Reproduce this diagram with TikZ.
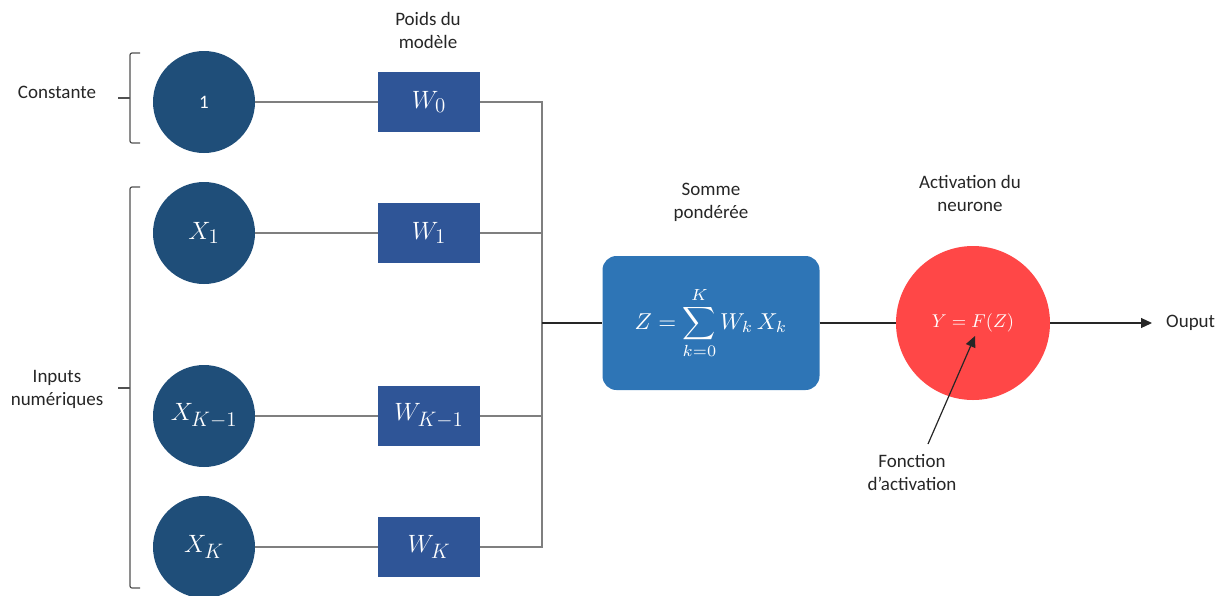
\documentclass[tikz,border=0pt]{standalone}
\usepackage{graphicx}
\usepackage{fontspec}
\setmainfont{Carlito}
\usetikzlibrary{arrows.meta}

\definecolor{neuronblue}{HTML}{1F4E79}
\definecolor{weightblue}{HTML}{2F5597}
\definecolor{sumblue}{HTML}{2E75B6}
\definecolor{actred}{HTML}{FF4747}
\definecolor{wiregray}{HTML}{7F7F7F}
\definecolor{darkwire}{HTML}{262626}
\definecolor{labeltext}{HTML}{262626}

\newcommand\lblfont{\fontsize{19}{23}\selectfont}
\newcommand\varfont{\fontsize{19}{23}\selectfont}
% math enlarged after typesetting
\newcommand\mathat[2]{\scalebox{#1}{$#2$}}
\newcommand\varsize{1.45}

\tikzset{
  inp/.style={circle, fill=neuronblue, minimum size=102pt, inner sep=0pt,
              text=white},
  wbox/.style={rectangle, fill=weightblue, minimum width=102pt,
               minimum height=60pt, inner sep=0pt, text=white},
  var/.style={font=\varfont},
  lbl/.style={align=center, text=labeltext, font=\lblfont, inner sep=0pt},
  wire/.style={draw=wiregray, line width=1.2pt},
  darkline/.style={draw=darkwire, line width=1.2pt},
  bracket/.style={draw=darkwire!80, line width=1.2pt, rounded corners=2pt}
}

\begin{document}
\begin{tikzpicture}[x=1pt, y=-1pt]
\useasboundingbox (0,0) rectangle (1226,595);

% input neurons
\node[inp] (c0) at (204,102) {\scalebox{1.9}{1}};
\node[inp, var] (x1) at (204,233) {\mathat{\varsize}{X_1}};
\node[inp, var] (xk1) at (204,416) {\mathat{\varsize}{X_{K-1}}};
\node[inp, var] (xk) at (204,547) {\mathat{\varsize}{X_K}};

% model weights
\node[wbox, var] (w0) at (429,102) {\mathat{\varsize}{W_0}};
\node[wbox, var] (w1) at (429,233) {\mathat{\varsize}{W_1}};
\node[wbox, var] (wk1) at (429,416) {\mathat{\varsize}{W_{K-1}}};
\node[wbox, var] (wk) at (429,547) {\mathat{\varsize}{W_K}};

% weighted sum
\node[rectangle, rounded corners=14pt, fill=sumblue, minimum width=217pt,
      minimum height=134pt, inner sep=0pt, text=white] (sum) at (711,323)
  {\mathat{2.3}{\displaystyle Z = \sum_{k=0}^{K} W_k\, X_k}};

% activation neuron
\node[circle, fill=actred, minimum size=154pt, inner sep=0pt, text=white]
  (act) at (973,323) {\mathat{1.85}{Y = F(Z)}};

% labels
\node[lbl] (lconst) at (57,92) {Constante};
\node[lbl] (linp) at (57,389) {Inputs\\numériques};
\node[lbl] (lpoids) at (428,30) {Poids du\\modèle};
\node[lbl] (lsomme) at (711,202) {Somme\\pondérée};
\node[lbl] (lactiv) at (970,193) {Activation du\\neurone};
\node[lbl, anchor=north] (lfonc) at (912,454) {Fonction\\d'activation};
\node[lbl, anchor=west] (lout) at (1166,323) {Ouput};

% group brackets
\draw[bracket] (140,53) -- (130,53) -- (130,143) -- (140,143);
\draw[bracket] (130,98) -- (118,98);
\draw[bracket] (140,187) -- (130,187) -- (130,588) -- (140,588);
\draw[bracket] (130,388) -- (118,388);

% inputs to weights
\draw[wire] (c0) -- (w0);
\draw[wire] (x1) -- (w1);
\draw[wire] (xk1) -- (wk1);
\draw[wire] (xk) -- (wk);

% weights to summation bus
\coordinate (bus) at (542,323);
\draw[wire] (w0.east) -| (bus);
\draw[wire] (w1.east) -| (bus);
\draw[wire] (wk1.east) -| (bus);
\draw[wire] (wk.east) -| (bus);
\draw[darkline] (bus) -- (sum.west);

% sum to activation and output
\draw[darkline] (sum.east) -- (act.west);
\coordinate (outtip) at (1152,323);
\draw[darkline, -{Triangle[length=11pt, width=10pt]}] (act.east) -- (outtip);

% pointer to the activation function
\coordinate (ftip) at (975,336);
\draw[darkline, -{Triangle[length=11pt, width=10pt]}]
  ([shift={(16,-10)}]lfonc.north) -- (ftip);
\end{tikzpicture}
\end{document}
